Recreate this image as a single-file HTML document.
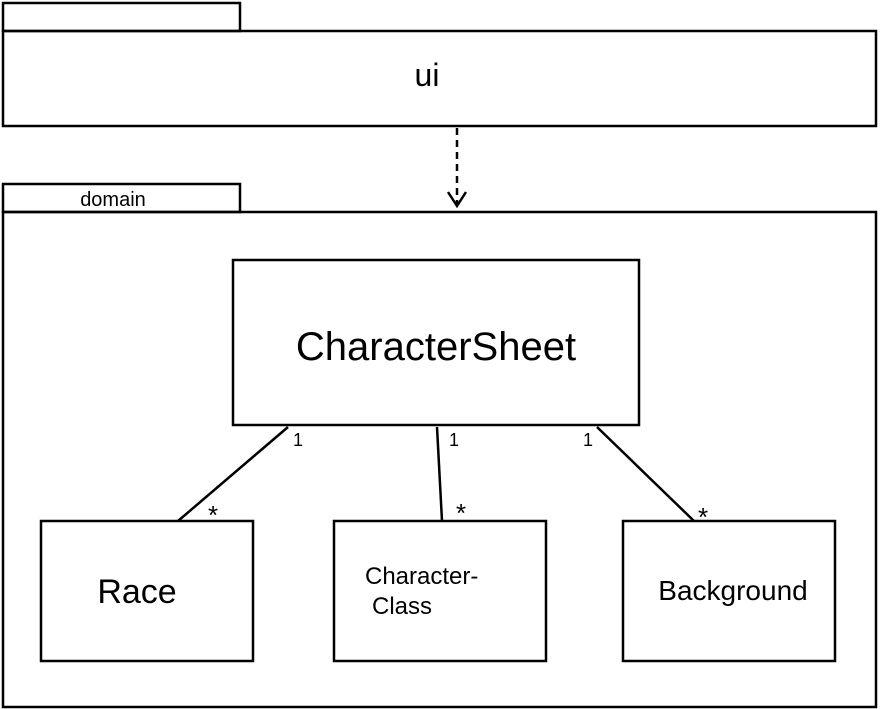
<!DOCTYPE html>
<html><head><meta charset="utf-8"><style>
html,body{margin:0;padding:0;background:#fff;}
svg{display:block;}
text{font-family:"Liberation Sans",sans-serif;fill:#000;}
</style></head><body>
<svg width="881" height="709" viewBox="0 0 881 709" xmlns="http://www.w3.org/2000/svg">
<g fill="none" stroke="#000" stroke-width="2.5">
<rect x="3" y="3" width="237" height="28"/>
<rect x="3" y="31" width="873" height="95"/>
<rect x="3" y="184" width="237" height="28"/>
<rect x="3" y="212" width="873" height="495"/>
<rect x="233" y="260" width="406" height="165"/>
<rect x="41" y="521" width="212" height="140"/>
<rect x="334" y="521" width="212" height="140"/>
<rect x="623" y="521" width="212" height="140"/>
<line x1="457" y1="128" x2="457" y2="204" stroke-dasharray="7,5"/>
<polyline points="448,192 457,206 466,192"/>
<line x1="288" y1="427" x2="178" y2="521"/>
<line x1="437" y1="427" x2="442" y2="521"/>
<line x1="597" y1="427" x2="694" y2="521"/>
</g>
<text x="427" y="86" font-size="32" text-anchor="middle">ui</text>
<text x="113" y="206" font-size="20" text-anchor="middle">domain</text>
<text x="436" y="360" font-size="40" text-anchor="middle">CharacterSheet</text>
<text x="137" y="603" font-size="34" text-anchor="middle">Race</text>
<text x="365" y="584" font-size="24">Character-</text>
<text x="372" y="614" font-size="24">Class</text>
<text x="733" y="600" font-size="28" text-anchor="middle">Background</text>
<text x="293" y="446" font-size="18">1</text>
<text x="449" y="446" font-size="18">1</text>
<text x="583" y="446" font-size="18">1</text>
<text x="208" y="524" font-size="26">*</text>
<text x="456" y="522" font-size="26">*</text>
<text x="698" y="526" font-size="26">*</text>
</svg>
</body></html>
